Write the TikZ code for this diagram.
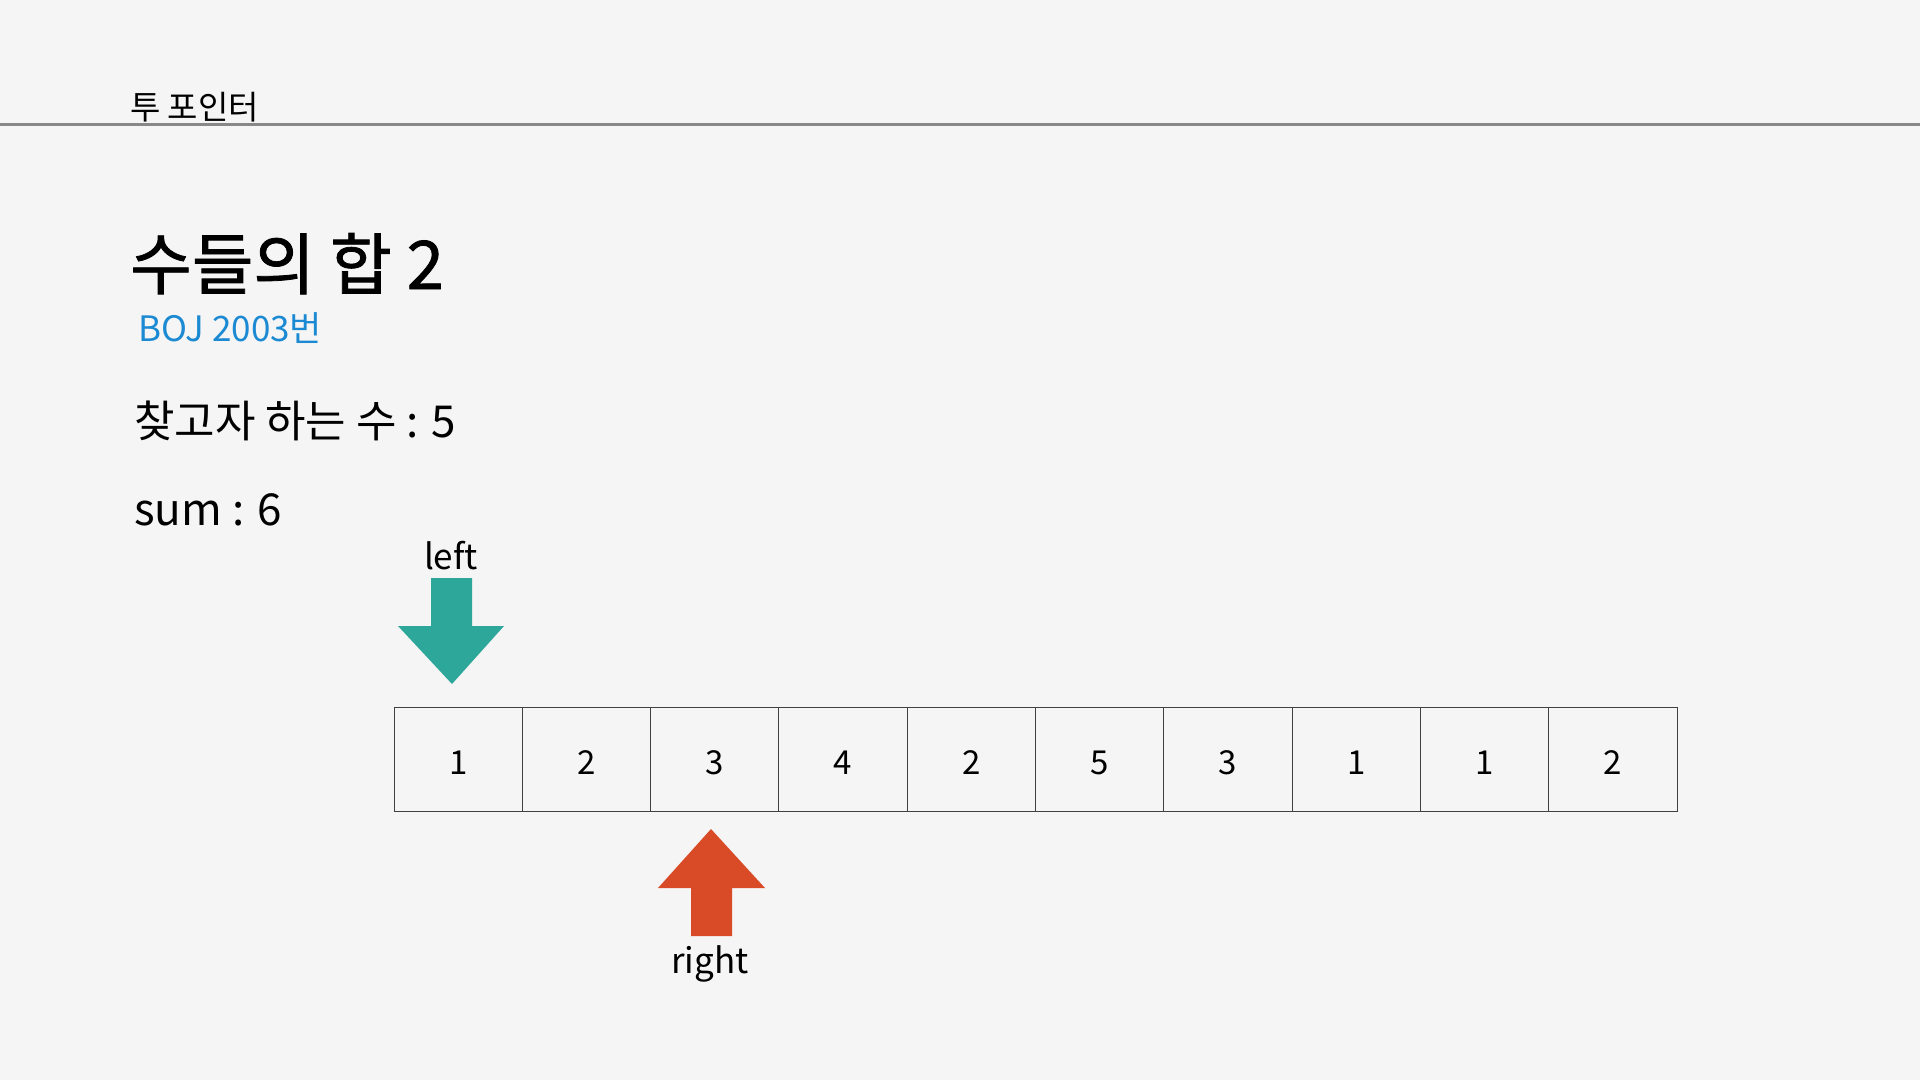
\documentclass[tikz,border=0pt]{standalone}
\usepackage{fontspec}
\setmainfont{Noto Sans CJK KR}
\newfontfamily\titlefont[FakeBold=1.2]{Noto Sans CJK KR}
\definecolor{bg}{HTML}{F5F5F5}
\definecolor{rulegray}{HTML}{888888}
\definecolor{bojblue}{HTML}{1B8AD3}
\definecolor{leftteal}{HTML}{2EA79B}
\definecolor{rightred}{HTML}{D94A27}
\newcommand{\fs}[1]{\fontsize{#1}{#1}\selectfont}
\begin{document}
\begin{tikzpicture}[x=1pt,y=-1pt,
  txt/.style={anchor=base west, inner sep=0pt},
  cell/.style={draw=black!75, line width=1pt, minimum width=128.3pt, minimum height=104pt, inner sep=0pt,
    text height=30pt, text depth=0pt, font=\fs{33}},
  lbl/.style={anchor=base, inner sep=0pt, font=\fs{35}}]
\fill [bg] (0,0) rectangle (1920,1080);
\useasboundingbox (0,0) rectangle (1920,1080);
% header
\node [txt, font=\fs{33}] (hdr) at (130,119) {투 포인터};
\draw [rulegray, line width=3pt] (0,124) -- (1920,124);
% title
\node [txt, font=\titlefont\fs{67}] (title) at (130,289) {수들의 합 2};
\node [txt, font=\fs{35}, text=bojblue] (boj) at (138,341) {BOJ 2003번};
\node [txt, font=\fs{44}] (target) at (134,437) {찾고자 하는 수 : 5};
\node [txt, font=\fs{44}] (sum) at (134,525) {sum : 6};
% array
\node [cell] (c1) at (458.2,759) {1};
\node [cell] (c2) at (586.5,759) {2};
\node [cell] (c3) at (714.8,759) {3};
\node [cell] (c4) at (843.1,759) {4};
\node [cell] (c5) at (971.4,759) {2};
\node [cell] (c6) at (1099.7,759) {5};
\node [cell] (c7) at (1228.0,759) {3};
\node [cell] (c8) at (1356.3,759) {1};
\node [cell] (c9) at (1484.6,759) {1};
\node [cell] (c10) at (1612.9,759) {2};
% left pointer
\node [lbl] (left) at (451,569) {left};
\fill [leftteal] (431,578) -- (472,578) -- (472,626) -- (504,626) -- (452,684)
  -- (398,626) -- (431,626) -- cycle;
% right pointer
\fill [rightred] (711,829) -- (765,888) -- (732,888) -- (732,936) -- (691,936)
  -- (691,888) -- (658,888) -- cycle;
\node [lbl] (right) at (710,973) {right};
\end{tikzpicture}
\end{document}
